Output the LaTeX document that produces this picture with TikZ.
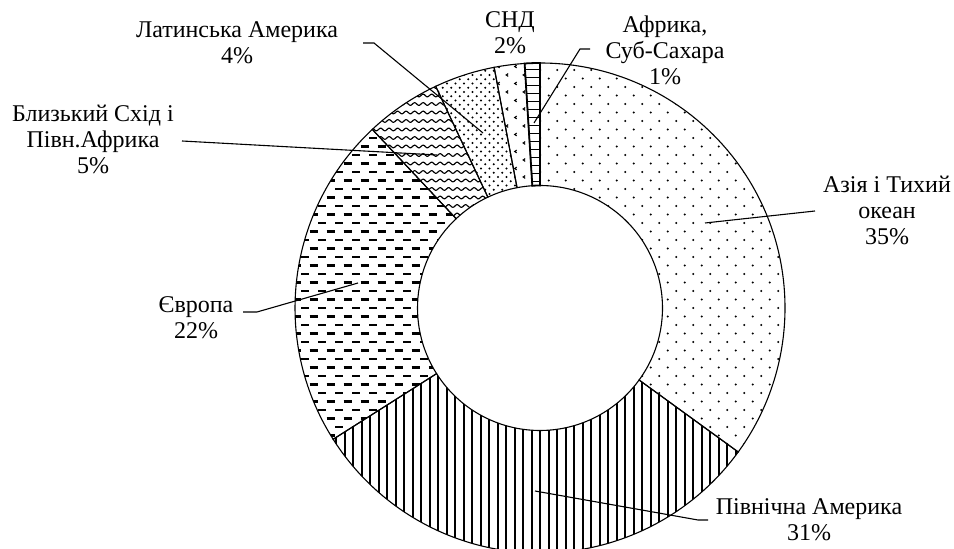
\documentclass[tikz,border=0pt]{standalone}
\usepackage{fontspec}
\setmainfont{Liberation Serif}
\begin{document}
\begin{tikzpicture}[x=1pt,y=1pt,
  lbl/.style={anchor=base, inner sep=0pt, font=\fontsize{24}{26}\selectfont},
  leader/.style={line width=1.1pt, black},
  edge/.style={line width=1.1pt, black},
  slice/.style 2 args={insert path={(#1:245) arc[start angle=#1, end angle=#2, radius=245] -- (#2:122.5) arc[start angle=#2, end angle=#1, radius=122.5] -- cycle}}]
\useasboundingbox (0,0) rectangle (954,549);
\fill[white] (0,0) rectangle (954,549);

\begin{scope}[shift={(540,241)}]
  % Asia-Pacific: sparse staggered dots
  \begin{scope}
    \clip[slice={90}{-36}];
    \foreach \i in {0,...,58}{
      \pgfmathsetmacro{\yy}{246.5-\i*8.5}
      \pgfmathsetmacro{\off}{(1-mod(\i,2))*8.5}
      \foreach \n in {0,...,14}{
        \fill ({0.3+\n*17+\off},\yy) circle (1.15);
      }
    }
  \end{scope}
  % North America: vertical lines
  \begin{scope}
    \clip[slice={-36}{-147.6}];
    \foreach \k in {-25,...,24}{
      \draw[line width=1.8] ({0.3+\k*8.5},-250) -- ({0.3+\k*8.5},-50);
    }
  \end{scope}
  % Europe: staggered dashes
  \begin{scope}
    \clip[slice={-147.6}{-226.8}];
    \foreach \i in {0,...,38}{
      \pgfmathsetmacro{\yy}{187-\i*8.5}
      \pgfmathsetmacro{\off}{mod(\i,2)*8.5}
      \foreach \n in {-3,...,9}{
        \draw[line width=2.3] ({-205-\off+\n*17},\yy) -- ({-205-\off+\n*17+8.4},\yy);
      }
    }
  \end{scope}
  % Middle East: waves
  \begin{scope}
    \clip[slice={-226.8}{-244.8}];
    \foreach \i in {0,...,17}{
      \pgfmathsetmacro{\yy}{229.5-\i*8.5}
      \draw[line width=1.1] plot[variable=\t, domain=-175:-40, samples=110] (\t,{\yy+1.4*sin(\t*42.353)});
    }
  \end{scope}
  % Latin America: dense staggered dots
  \begin{scope}
    \clip[slice={-244.8}{-259.2}];
    \foreach \i in {0,...,34}{
      \pgfmathsetmacro{\yy}{250-\i*4.25}
      \pgfmathsetmacro{\off}{mod(\i,2)*4.25}
      \foreach \n in {0,...,11}{
        \fill ({-110+\off+\n*8.5},\yy) circle (1.05);
      }
    }
  \end{scope}
  % CIS: divots
  \begin{scope}
    \clip[slice={-259.2}{-266.4}];
    \foreach \i in {0,...,16}{
      \pgfmathsetmacro{\yy}{250-\i*8.5}
      \pgfmathsetmacro{\off}{mod(\i,2)*8.5}
      \foreach \n in {0,...,3}{
        \draw[line width=1.1] ({-50+\off+\n*17+1.2},{\yy+1.4}) -- ({-50+\off+\n*17-0.8},\yy) -- ({-50+\off+\n*17+1.2},{\yy-1.4});
      }
    }
  \end{scope}
  % Africa: horizontal lines
  \begin{scope}
    \clip[slice={-266.4}{-270}];
    \foreach \i in {0,...,16}{
      \draw[line width=1.7] (-20,{246.5-\i*8}) -- (5,{246.5-\i*8});
    }
  \end{scope}
  % outlines
  \draw[edge][slice={90}{-36}];
  \draw[edge][slice={-36}{-147.6}];
  \draw[edge][slice={-147.6}{-226.8}];
  \draw[edge][slice={-226.8}{-244.8}];
  \draw[edge][slice={-244.8}{-259.2}];
  \draw[edge][slice={-259.2}{-266.4}];
  \draw[line width=1.8][slice={-266.4}{-270}];
\end{scope}

% labels
\node[lbl] (latam) at (237,511) {\begin{tabular}[t]{@{}c@{}}Латинська Америка\\4\%\end{tabular}};
\node[lbl] (mena) at (93,427) {\begin{tabular}[t]{@{}c@{}}Близький Схід і\\Півн.Африка\\5\%\end{tabular}};
\node[lbl] (cis) at (510,521) {\begin{tabular}[t]{@{}c@{}}СНД\\2\%\end{tabular}};
\node[lbl] (africa) at (665,516) {\begin{tabular}[t]{@{}c@{}}Африка,\\Суб-Сахара\\1\%\end{tabular}};
\node[lbl] (asia) at (887,356) {\begin{tabular}[t]{@{}c@{}}Азія і Тихий\\океан\\35\%\end{tabular}};
\node[lbl] (europe) at (196,236) {\begin{tabular}[t]{@{}c@{}}Європа\\22\%\end{tabular}};
\node[lbl] (namer) at (809,34) {\begin{tabular}[t]{@{}c@{}}Північна Америка\\31\%\end{tabular}};

% leader lines
\coordinate (latA) at (363,506); \coordinate (latB) at (374,506); \coordinate (latC) at (483,416);
\draw[leader] (latA) -- (latB) -- (latC);
\coordinate (menA) at (182,408); \coordinate (menC) at (437,394);
\draw[leader] (menA) -- (menC);
\coordinate (afrA) at (590,500); \coordinate (afrB) at (580,500); \coordinate (afrC) at (534,426);
\draw[leader] (afrA) -- (afrB) -- (afrC);
\coordinate (asiA) at (815,338); \coordinate (asiC) at (705,326);
\draw[leader] (asiA) -- (asiC);
\coordinate (eurA) at (243,237); \coordinate (eurB) at (257,237); \coordinate (eurC) at (358,266);
\draw[leader] (eurA) -- (eurB) -- (eurC);
\coordinate (namA) at (708,29); \coordinate (namB) at (698,29); \coordinate (namC) at (535,58);
\draw[leader] (namA) -- (namB) -- (namC);
\end{tikzpicture}
\end{document}
